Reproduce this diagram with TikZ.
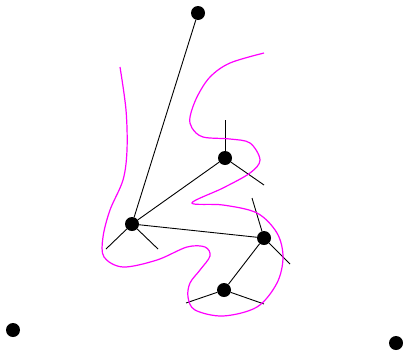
\documentclass[tikz,border=0pt]{standalone}
\definecolor{mag}{RGB}{255,0,255}
\begin{document}
\begin{tikzpicture}[x=1pt,y=-1pt,
  dot/.style={circle,fill=black,inner sep=0pt,minimum size=14pt},
  edge/.style={draw=black,line width=0.9pt},
  curve/.style={draw=mag,line width=1.2pt}]
\useasboundingbox (0,0) rectangle (403,351);
\node[dot] (t) at (198,13) {};
\node[dot] (a) at (132,224) {};
\node[dot] (b) at (225,158) {};
\node[dot] (c) at (264,238) {};
\node[dot] (d) at (224,290) {};
\node[dot] (l) at (13,330) {};
\node[dot] (r) at (396,343) {};
\coordinate (a1) at (106,249);
\coordinate (a2) at (158,249);
\coordinate (b1) at (225,120);
\coordinate (b2) at (264,185);
\coordinate (c1) at (252,198);
\coordinate (c2) at (290,264);
\coordinate (d1) at (186,303);
\coordinate (d2) at (264,304);
\draw[edge] (t) -- (a);
\draw[edge] (a) -- (b);
\draw[edge] (a) -- (c);
\draw[edge] (c) -- (d);
\draw[edge] (a) -- (a1);
\draw[edge] (a) -- (a2);
\draw[edge] (b) -- (b1);
\draw[edge] (b) -- (b2);
\draw[edge] (c) -- (c1);
\draw[edge] (c) -- (c2);
\draw[edge] (d) -- (d1);
\draw[edge] (d) -- (d2);
\draw[curve] plot[smooth,tension=0.55] coordinates {
 (120,67) (126,110) (127,150) (123,180) (110,210) (103,237) (104,257) (123,267)
 (157,260) (187,247) (205,247) (210,256) (200,270) (190,283) (188,297) (195,310)
 (223,316) (257,307) (277,283) (283,257) (277,233) (257,213) (223,205) (192,203)
 (223,188) (250,173) (260,160) (250,143) (230,139) (203,137) (192,128) (190,117)
 (197,97) (210,77) (230,63) (264,53)};
\end{tikzpicture}
\end{document}
